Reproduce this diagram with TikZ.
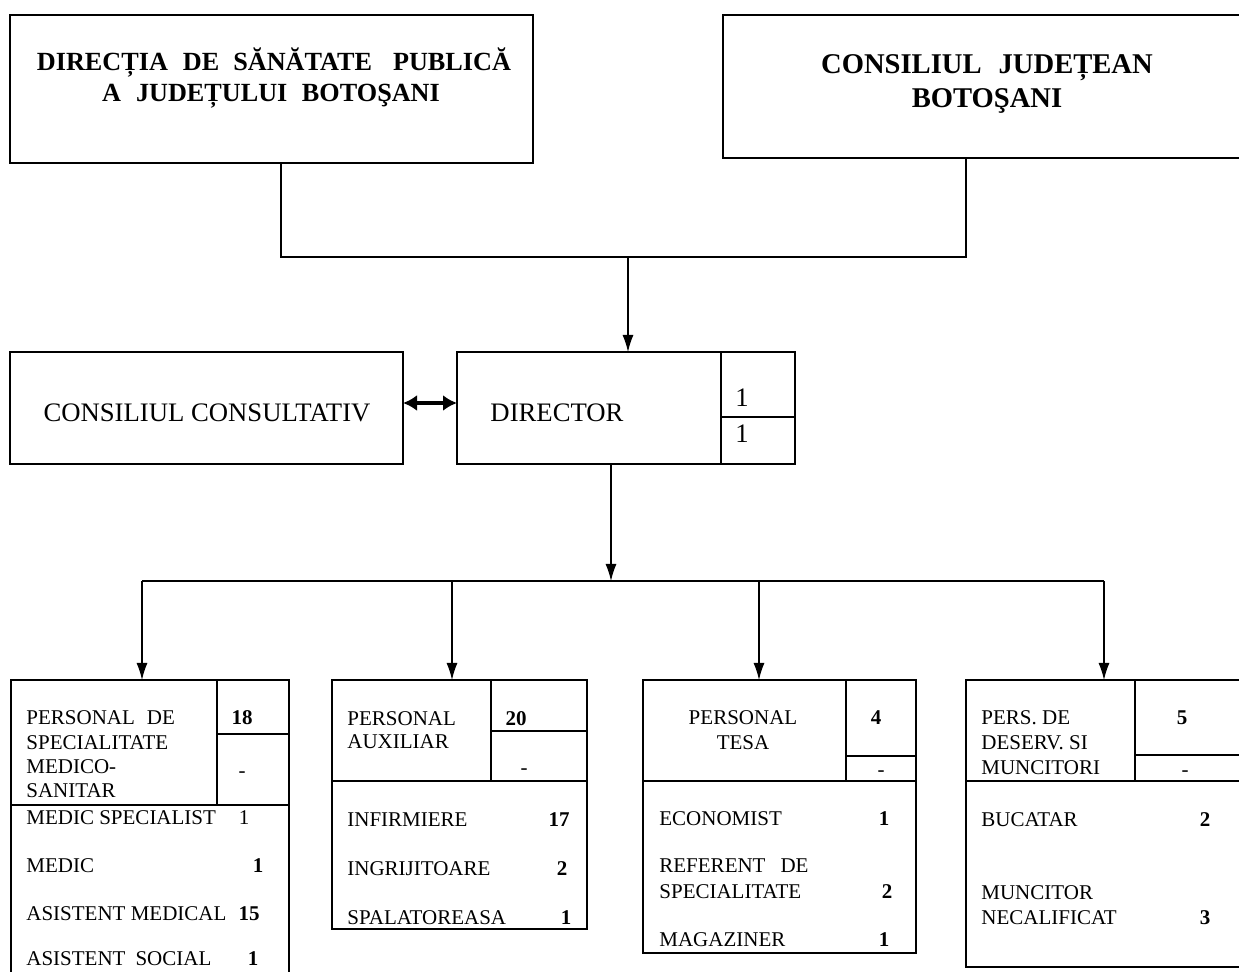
\documentclass[tikz,border=0pt]{standalone}
\usepackage{fontspec}
\setmainfont{Liberation Serif}
\usetikzlibrary{arrows.meta,positioning,calc}

\tikzset{
  frame/.style={line width=1pt},
  box/.style={draw,frame,rectangle,inner sep=0pt,outer sep=0pt},
  title/.style={anchor=base,inner sep=0pt,font=\fontsize{13.1}{16}\selectfont\bfseries},
  mid/.style={anchor=base,inner sep=0pt,font=\fontsize{13.35}{16}\selectfont},
  item/.style={anchor=base west,inner sep=0pt,font=\fontsize{10.5}{12}\selectfont},
  head/.style={anchor=base,inner sep=0pt,font=\fontsize{10.5}{12}\selectfont},
  cnt/.style={head,font=\fontsize{10.5}{12}\selectfont\bfseries},
  link/.style={line width=0.65pt},
  arr/.style={link,-{Latex[length=8.5pt,width=5.5pt]}},
  dbl/.style={line width=1.6pt,{Latex[length=7pt,width=8pt]}-{Latex[length=7pt,width=8pt]}}
}

\begin{document}
\begin{tikzpicture}[x=0.5pt,y=-0.5pt]
\useasboundingbox (0,0) rectangle (1239,972);

% Upper boxes
\node[box,anchor=north west,minimum width=261.5pt,minimum height=74pt] (dsp) at (10,15) {};
\node[box,anchor=north west,minimum width=263.5pt,minimum height=71.5pt] (cj) at (723,15) {};
\node[title] (dsp1) at (274,70.7) {DIRECȚIA\hspace{7.5pt}DE\hspace{7pt}SĂNĂTATE\hspace{10.5pt}PUBLICĂ};
\node[title] (dsp2) at (271,101.7) {A\hspace{7.5pt}JUDEȚULUI\hspace{7.3pt}BOTOŞANI};
\node[title,font=\fontsize{14.3}{17}\selectfont\bfseries] (cj1) at (987,74) {CONSILIUL\hspace{8.5pt}JUDEȚEAN};
\node[title,font=\fontsize{14.3}{17}\selectfont\bfseries] (cj2) at (987,108) {BOTOŞANI};

% Middle row
\node[box,anchor=north west,minimum width=196.5pt,minimum height=56pt] (cc) at (10,352) {};
\node[box,right=27pt of cc,minimum width=169pt,minimum height=56pt] (dir) {};
\draw[frame] ($(dir.north west)+(264,0)$) -- ($(dir.south west)+(264,0)$);
\draw[frame] ($(dir.north west)+(264,65)$) -- ($(dir.north east)+(0,65)$);
\node[mid] (cctxt) at (207,422) {CONSILIUL CONSULTATIV};
\node[mid] (dirtxt) at (557,422) {DIRECTOR};
\node[mid] (dirn1) at (742,407) {1};
\node[mid] (dirn2) at (742,443) {1};

% Lower boxes
\node[box,anchor=north west,minimum width=139pt,minimum height=155pt] (spec) at (11,680) {};
\node[box,right=21.5pt of spec.north east,anchor=north west,minimum width=127.5pt,minimum height=124.5pt] (aux) {};
\node[box,right=28pt of aux.north east,anchor=north west,minimum width=136.5pt,minimum height=136.5pt] (tesa) {};
\node[box,right=25pt of tesa.north east,anchor=north west,minimum width=142pt,minimum height=143.5pt] (deserv) {};
\foreach \b/\h/\s/\r in {spec/125/206/54,aux/101/159/51,tesa/101/203/76,deserv/101/169/75}{
  \draw[frame] ($(\b.north west)+(0,\h)$) -- ($(\b.north east)+(0,\h)$);
  \draw[frame] ($(\b.north west)+(\s,0)$) -- ($(\b.north west)+(\s,\h)$);
  \draw[frame] ($(\b.north west)+(\s,\r)$) -- ($(\b.north east)+(0,\r)$);
}

% Medico-sanitar
\node[item] (sp1) at (26,725) {PERSONAL\hspace{6pt}DE};
\node[item] (sp2) at (26,750) {SPECIALITATE};
\node[item] (sp3) at (26,774) {MEDICO-};
\node[item] (sp4) at (26,798) {SANITAR};
\node[cnt] (spn) at (242,725) {18};
\node[head] (spd) at (242,778) {-};
\node[item] (sp5) at (26,825) {MEDIC SPECIALIST};
\node[head] (sp5n) at (244,825) {1};
\node[item] (sp6) at (26,873) {MEDIC};
\node[cnt] (sp6n) at (258,873) {1};
\node[item] (sp7) at (26,921) {ASISTENT MEDICAL};
\node[cnt] (sp7n) at (249,921) {15};
\node[item] (sp8) at (26,966) {ASISTENT\hspace{5pt}SOCIAL};
\node[cnt] (sp8n) at (253,966) {1};

% Auxiliar
\node[item] (ax1) at (347,726) {PERSONAL};
\node[item] (ax2) at (347,749) {AUXILIAR};
\node[cnt] (axn) at (516,726) {20};
\node[head] (axd) at (524,775) {-};
\node[item] (ax3) at (347,827) {INFIRMIERE};
\node[cnt] (ax3n) at (559,827) {17};
\node[item] (ax4) at (347,876) {INGRIJITOARE};
\node[cnt] (ax4n) at (562,876) {2};
\node[item] (ax5) at (347,925) {SPALATOREASA};
\node[cnt] (ax5n) at (566,925) {1};

% TESA
\node[head] (ts1) at (743,725) {PERSONAL};
\node[head] (ts2) at (743,750) {TESA};
\node[cnt] (tsn) at (876,725) {4};
\node[head] (tsd) at (881,777) {-};
\node[item] (ts3) at (659,826) {ECONOMIST};
\node[cnt] (ts3n) at (884,826) {1};
\node[item] (ts4) at (659,873) {REFERENT\hspace{7.5pt}DE};
\node[item] (ts5) at (659,899) {SPECIALITATE};
\node[cnt] (ts5n) at (887,899) {2};
\node[item] (ts6) at (659,947) {MAGAZINER};
\node[cnt] (ts6n) at (884,947) {1};

% Deservire
\node[item] (ds1) at (981,725) {PERS. DE};
\node[item] (ds2) at (981,750) {DESERV. SI};
\node[item] (ds3) at (981,775) {MUNCITORI};
\node[cnt] (dsn) at (1182,725) {5};
\node[head] (dsd) at (1185,777) {-};
\node[item] (ds4) at (981,827) {BUCATAR};
\node[cnt] (ds4n) at (1205,827) {2};
\node[item] (ds5) at (981,900) {MUNCITOR};
\node[item] (ds6) at (981,925) {NECALIFICAT};
\node[cnt] (ds6n) at (1205,925) {3};

% Connectors
\coordinate (join) at (628,257);
\draw[link] ([xshift=4.75pt]dsp.south) |- (join) -| ([xshift=-10.25pt]cj.south);
\draw[arr] (join) -- (join |- dir.north);
\draw[dbl] ([yshift=2.5pt]cc.east) -- ([yshift=2.5pt]dir.west);
\coordinate (hub) at (611,581);
\draw[arr] (hub |- dir.south) -- (hub);
\coordinate (b1) at (142,581);
\coordinate (b2) at (452,581);
\coordinate (b3) at (759,581);
\coordinate (b4) at (1104,581);
\draw[frame] (b1) -- (b4);
\foreach \c/\n in {b1/spec,b2/aux,b3/tesa,b4/deserv}
  \draw[arr] (\c) -- (\c |- \n.north);
\end{tikzpicture}
\end{document}
